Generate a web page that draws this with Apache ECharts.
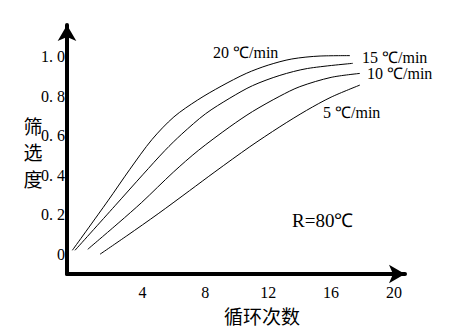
<!DOCTYPE html>
<html>
<head>
<meta charset="utf-8">
<script src="https://cdn.jsdelivr.net/npm/echarts@6/dist/echarts.min.js"></script>
<style>html,body{margin:0;padding:0;background:#fff}#c{width:456px;height:335px}</style>
</head>
<body>
<div id="c"></div>
<script>
const xTickValues = [4, 8, 12, 16, 20];
const yTickValues = [0, 0.2, 0.4, 0.6, 0.8, 1.0];
const seriesNames = ['20 ℃/min', '15 ℃/min', '10 ℃/min', '5 ℃/min'];
const x20 = [-0.46, 1.8, 3.2, 4.6, 6.0, 7.5, 9.0, 10.6, 12.0, 13.5, 15.3, 17.2];
const y20 = [0.02, 0.27, 0.43, 0.58, 0.695, 0.78, 0.85, 0.915, 0.957, 0.988, 1.003, 1.005];
const x15 = [-0.29, 2.25, 4.05, 5.43, 6.5, 8.0, 9.56, 11.0, 12.74, 14.5, 17.38];
const y15 = [0.02, 0.245, 0.405, 0.525, 0.608, 0.71, 0.79, 0.853, 0.905, 0.94, 0.966];
const x10 = [0.52, 2.5, 3.95, 5.96, 7.55, 9.56, 11.0, 12.74, 14.01, 16.0, 17.83];
const y10 = [0.025, 0.16, 0.262, 0.415, 0.525, 0.645, 0.722, 0.80, 0.848, 0.895, 0.915];
const x5 = [1.3, 3.0, 5.0, 7.0, 8.61, 10.83, 12.74, 14.44, 16.0, 17.83];
const y5 = [0.0, 0.093, 0.205, 0.322, 0.417, 0.544, 0.645, 0.728, 0.795, 0.856];
const yTitle = '筛\n选\n度';
const xTitle = '循环次数';
const note = 'R=80℃';

const xs = [x20, x15, x10, x5];
const ys = [y20, y15, y10, y5];
const pair = (a, b) => a.map((v, i) => [v, b[i]]);

const chart = echarts.init(document.getElementById('c'), null, {renderer: 'svg'});
const serif = '"Liberation Serif", "Times New Roman", serif';
const labelPos = [[213, 52], [362, 57], [367, 73], [323, 112]];

chart.setOption({
  animation: false,
  backgroundColor: '#fff',
  grid: {left: 67, right: 51, top: 25, bottom: 61},
  xAxis: {
    type: 'value', min: -0.8, max: 20.7,
    splitLine: {show: false},
    axisTick: {show: false},
    axisLine: {show: true, onZero: false, lineStyle: {color: '#000', width: 4},
      symbol: ['none', 'arrow'], symbolSize: [14, 16]},
    axisLabel: {customValues: xTickValues, color: '#000', fontFamily: serif, fontSize: 16, margin: 10,
      showMinLabel: true, showMaxLabel: true, hideOverlap: false}
  },
  yAxis: {
    type: 'value', min: -0.1, max: 1.16,
    splitLine: {show: false},
    axisTick: {show: false},
    axisLine: {show: true, onZero: false, lineStyle: {color: '#000', width: 4},
      symbol: ['none', 'arrow'], symbolSize: [14, 16]},
    axisLabel: {customValues: yTickValues, color: '#000', fontFamily: serif, fontSize: 16, margin: 2,
      showMinLabel: true, showMaxLabel: true,
      formatter: v => v === 0 ? '0' : v.toFixed(1).replace('.', '. ')}
  },
  series: seriesNames.map((n, i) => ({
    name: n, type: 'line', data: pair(xs[i], ys[i]), smooth: 0.3, showSymbol: false,
    lineStyle: {color: '#000', width: 1}, z: 1
  })),
  graphic: [
    ...seriesNames.map((n, i) => ({type: 'text', x: labelPos[i][0], y: labelPos[i][1],
      style: {text: n, font: '16px ' + serif, fill: '#000', verticalAlign: 'middle', align: 'left'}})),
    {type: 'text', x: 292, y: 220, style: {text: note, font: '19px ' + serif, fill: '#000', verticalAlign: 'middle', align: 'left'}},
    {type: 'text', x: 33, y: 112, style: {text: yTitle, font: '19px "Noto Sans CJK SC"', lineHeight: 26.5, fill: '#000', verticalAlign: 'top', align: 'center'}},
    {type: 'text', x: 262, y: 315, style: {text: xTitle, font: '19px "Noto Sans CJK SC"', fill: '#000', verticalAlign: 'middle', align: 'center'}}
  ]
});
</script>
</body>
</html>
